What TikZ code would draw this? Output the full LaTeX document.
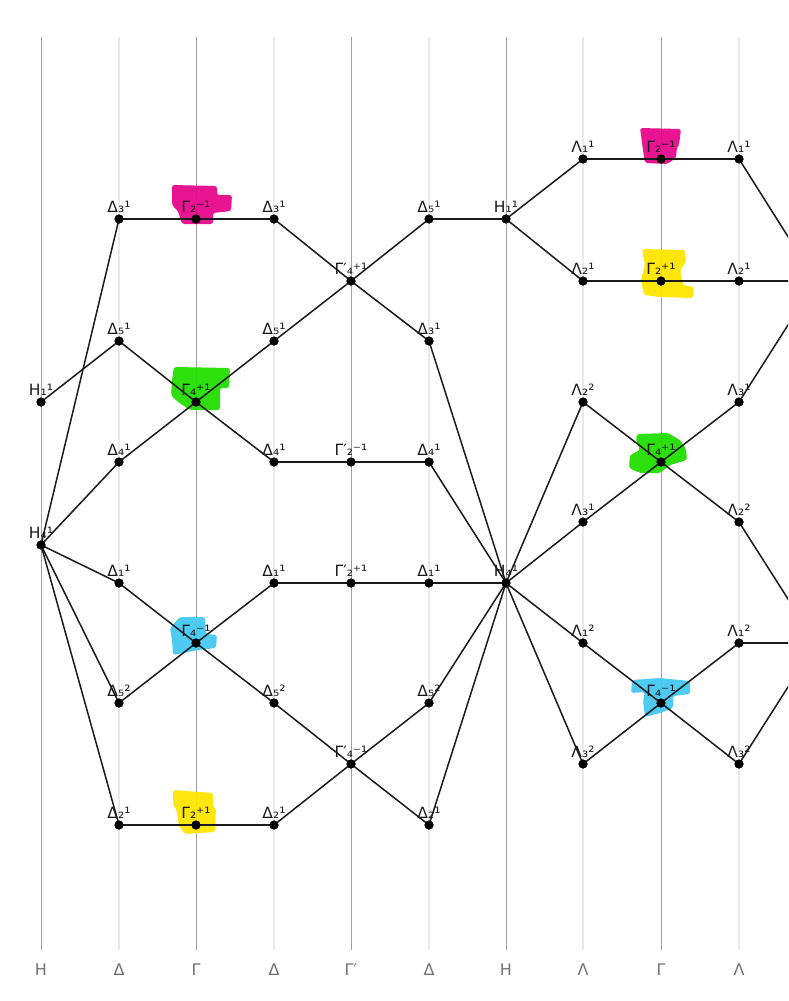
\documentclass[tikz,border=0pt]{standalone}
\usepackage{fontspec}
\setmainfont{DejaVu Sans}
\definecolor{hlmag}{HTML}{E8078C}
\definecolor{hlgrn}{HTML}{22DD00}
\definecolor{hlcyn}{HTML}{45C8F2}
\definecolor{hlyel}{HTML}{FFE500}
\definecolor{vdk}{HTML}{A0A0A0}
\definecolor{vlt}{HTML}{EAEAEA}
\definecolor{axlab}{HTML}{707070}
\definecolor{edgec}{HTML}{1A1A1A}
\newcommand{\pnode}[4]{%
  \node[dot] (#1) at (#2,#3) {};
  \node[lab] (#1-l) at (#2,#3-7) {#4};}
\begin{document}
\begin{tikzpicture}[x=1pt,y=-1pt,
  dot/.style={circle,fill=black,inner sep=0pt,minimum size=9pt},
  lab/.style={font=\fontsize{15.5}{17}\selectfont,anchor=base,inner sep=0pt,text=black!90},
  edge/.style={draw=edgec,line width=1.5pt},
  vdark/.style={draw=vdk,line width=1pt},
  vlight/.style={draw=vlt,line width=1.4pt},
  axis/.style={font=\fontsize{16}{18}\selectfont,text=axlab,anchor=base,inner sep=0pt},
  hl/.style={draw=none,opacity=0.95,rounded corners=2.5pt}]
\useasboundingbox (0,0) rectangle (788,1001);
\clip (0,0) rectangle (788,1001);
% vertical guide lines
\foreach \x in {41,196,351,506,661}{\draw[vdark] (\x,37) -- (\x,950);}
\foreach \x in {119,274,429,583,739}{\draw[vlight] (\x,37) -- (\x,950);}
% axis labels
\node[axis] (ax0) at (41,975) {H};
\node[axis] (ax1) at (119,975) {Δ};
\node[axis] (ax2) at (196,975) {Γ};
\node[axis] (ax3) at (274,975) {Δ};
\node[axis] (ax4) at (351,975) {Γ′};
\node[axis] (ax5) at (429,975) {Δ};
\node[axis] (ax6) at (506,975) {H};
\node[axis] (ax7) at (583,975) {Λ};
\node[axis] (ax8) at (661,975) {Γ};
\node[axis] (ax9) at (739,975) {Λ};
% highlights
\fill[hl,hlmag] (172,185) -- (217,186) -- (217,195) -- (232,195) -- (231,211) -- (213,213) -- (213,224) -- (182,224) -- (178,211) -- (172,205) -- cycle;
\fill[hl,hlgrn] (174,367) -- (230,368) -- (229,388) -- (220,388) -- (220,410) -- (190,410) -- (178,402) -- (171,395) -- (172,380) -- cycle;
\fill[hl,hlcyn] (180,617) -- (205,617) -- (206,634) -- (217,635) -- (216,648) -- (198,650) -- (173,655) -- (172,640) -- (170,628) -- cycle;
\fill[hl,hlyel] (173,790) -- (213,793) -- (213,808) -- (216,808) -- (215,832) -- (185,834) -- (179,826) -- (176,808) -- (173,805) -- cycle;
\fill[hl,hlmag] (640,128) -- (681,129) -- (679,145) -- (677,147) -- (676,158) -- (667,164) -- (645,163) -- (643,150) -- cycle;
\fill[hl,hlyel] (642,249) -- (685,250) -- (686,262) -- (680,270) -- (683,285) -- (694,287) -- (693,298) -- (660,297) -- (644,295) -- (641,280) -- (645,265) -- cycle;
\fill[hl,hlgrn] (637,434) -- (668,433) -- (680,440) -- (686,449) -- (687,460) -- (670,465) -- (660,473) -- (640,473) -- (629,468) -- (630,455) -- (640,450) -- (636,440) -- cycle;
\fill[hl,hlcyn] (632,680) -- (660,678) -- (690,681) -- (690,694) -- (673,696) -- (673,708) -- (660,713) -- (645,717) -- (643,700) -- (645,692) -- (631,693) -- cycle;
% nodes
\pnode{HL1}{41}{402}{H₁¹}
\pnode{HL4}{41}{545}{H₄¹}
\pnode{a3}{119}{219}{Δ₃¹}
\pnode{a5}{119}{341}{Δ₅¹}
\pnode{a4}{119}{462}{Δ₄¹}
\pnode{a1}{119}{583}{Δ₁¹}
\pnode{a52}{119}{703}{Δ₅²}
\pnode{a2}{119}{825}{Δ₂¹}
\pnode{g2m}{196}{219}{Γ₂⁻¹}
\pnode{g4p}{196}{402}{Γ₄⁺¹}
\pnode{g4m}{196}{643}{Γ₄⁻¹}
\pnode{g2p}{196}{825}{Γ₂⁺¹}
\pnode{b3}{274}{219}{Δ₃¹}
\pnode{b5}{274}{341}{Δ₅¹}
\pnode{b4}{274}{462}{Δ₄¹}
\pnode{b1}{274}{583}{Δ₁¹}
\pnode{b52}{274}{703}{Δ₅²}
\pnode{b2}{274}{825}{Δ₂¹}
\pnode{p4p}{351}{281}{Γ′₄⁺¹}
\pnode{p2m}{351}{462}{Γ′₂⁻¹}
\pnode{p2p}{351}{583}{Γ′₂⁺¹}
\pnode{p4m}{351}{764}{Γ′₄⁻¹}
\pnode{c5}{429}{219}{Δ₅¹}
\pnode{c3}{429}{341}{Δ₃¹}
\pnode{c4}{429}{462}{Δ₄¹}
\pnode{c1}{429}{583}{Δ₁¹}
\pnode{c52}{429}{703}{Δ₅²}
\pnode{c2}{429}{825}{Δ₂¹}
\pnode{HM1}{506}{219}{H₁¹}
\pnode{HM4}{506}{583}{H₄¹}
\pnode{l11}{583}{159}{Λ₁¹}
\pnode{l21}{583}{281}{Λ₂¹}
\pnode{l22}{583}{402}{Λ₂²}
\pnode{l31}{583}{522}{Λ₃¹}
\pnode{l12}{583}{643}{Λ₁²}
\pnode{l32}{583}{764}{Λ₃²}
\pnode{G2m}{661}{159}{Γ₂⁻¹}
\pnode{G2p}{661}{281}{Γ₂⁺¹}
\pnode{G4p}{661}{462}{Γ₄⁺¹}
\pnode{G4m}{661}{703}{Γ₄⁻¹}
\pnode{m11}{739}{159}{Λ₁¹}
\pnode{m21}{739}{281}{Λ₂¹}
\pnode{m31}{739}{402}{Λ₃¹}
\pnode{m22}{739}{522}{Λ₂²}
\pnode{m12}{739}{643}{Λ₁²}
\pnode{m32}{739}{764}{Λ₃²}
\coordinate (HR1) at (816,281);
\coordinate (HR4) at (816,643);
% edges
\foreach \u/\v in {HL1/a5, HL4/a3, HL4/a4, HL4/a1, HL4/a52, HL4/a2,
  a3/g2m, g2m/b3, a5/g4p, g4p/b4, a4/g4p, g4p/b5,
  a1/g4m, g4m/b52, a52/g4m, g4m/b1, a2/g2p, g2p/b2,
  b3/p4p, p4p/c3, b5/p4p, p4p/c5, b4/p2m, p2m/c4, b1/p2p, p2p/c1,
  b52/p4m, p4m/c2, b2/p4m, p4m/c52,
  c5/HM1, c3/HM4, c4/HM4, c1/HM4, c52/HM4, c2/HM4,
  HM1/l11, HM1/l21, HM4/l22, HM4/l31, HM4/l12, HM4/l32,
  l11/G2m, G2m/m11, l21/G2p, G2p/m21, l22/G4p, G4p/m22, l31/G4p, G4p/m31,
  l12/G4m, G4m/m32, l32/G4m, G4m/m12}
  {\draw[edge] (\u.center) -- (\v.center);}
\foreach \u/\v in {m11/HR1, m21/HR1, m31/HR1, m22/HR4, m12/HR4, m32/HR4}
  {\draw[edge] (\u.center) -- (\v);}
% dots on top of edges
\foreach \n in {HL1,HL4,a3,a5,a4,a1,a52,a2,g2m,g4p,g4m,g2p,b3,b5,b4,b1,b52,b2,
  p4p,p2m,p2p,p4m,c5,c3,c4,c1,c52,c2,HM1,HM4,l11,l21,l22,l31,l12,l32,
  G2m,G2p,G4p,G4m,m11,m21,m31,m22,m12,m32}
  {\fill[black] (\n.center) circle[radius=4.5pt];}
\end{tikzpicture}
\end{document}
